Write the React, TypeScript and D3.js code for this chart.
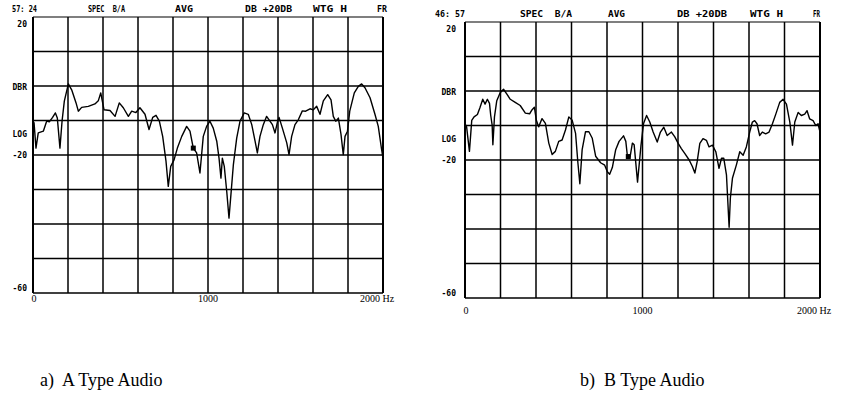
import React from 'react'
import * as d3 from 'd3'

// values (Hz, dB)
const freqTicks = [0, 1000, 2000]
const freqGrid = d3.range(0, 2001, 200)
const dbGrid = d3.range(20, -61, -10)
const dbLabels = [
  { text: '20', db: 18 },
  { text: 'DBR', db: -0.3 },
  { text: 'LOG', db: -14 },
  { text: '-20', db: -20 },
  { text: '-60', db: -58.5 },
]
const headerA = ['57: 24', 'SPEC  B/A', 'AVG', 'DB +20DB', 'WTG H', 'FR']
const headerB = ['46: 57', 'SPEC  B/A', 'AVG', 'DB +20DB', 'WTG H', 'FR']
const captions = ['a)  A Type Audio', 'b)  B Type Audio']

const audioA: [number, number][] = [
  [0, -10.2], [6, -10.7], [17, -18], [30, -13.6], [59, -13.1], [78, -10.2], [93, -10.4],
  [112, -9.1], [128, -7.8], [139, -9.3], [154, -18], [166, -10.2], [179, -4.4], [202, 0.6],
  [221, -1.1], [246, -4.9], [259, -7.3], [278, -6.2], [316, -5.9], [354, -5.2], [373, -4.3],
  [387, -2.0], [406, -6.9], [440, -7.1], [469, -8.8], [493, -4.9], [516, -6.3], [545, -8.8],
  [564, -7.3], [588, -7.7], [611, -6.3], [640, -8.2], [663, -12.6], [684, -9.1], [703, -8.5],
  [722, -10.2], [741, -14.6], [760, -21.8], [773, -29.1], [787, -23.3], [806, -21.4],
  [825, -18], [850, -14.6], [878, -11.7], [897, -13.1], [916, -18], [935, -19.4], [954, -25.2],
  [973, -14.6], [992, -11.7], [1011, -10.2], [1030, -12.2], [1050, -16], [1063, -20.9],
  [1074, -26.7], [1082, -20.9], [1093, -23.3], [1107, -30.5], [1120, -38.3], [1131, -31.5],
  [1145, -22.8], [1164, -15.1], [1183, -10.2], [1207, -7.8], [1230, -8.2], [1250, -11.2],
  [1269, -16], [1282, -19.4], [1297, -14.6], [1316, -11.2], [1335, -8.8], [1354, -10.2],
  [1368, -11.2], [1383, -13.6], [1398, -10.2], [1406, -9.1], [1425, -12.2], [1450, -16.5],
  [1463, -19.9], [1478, -14.6], [1497, -11.2], [1516, -9.8], [1539, -7.2], [1558, -7.3],
  [1583, -6.6], [1602, -6.9], [1621, -5.9], [1640, -8.2], [1659, -4.3], [1684, -2.5],
  [1703, -4.0], [1716, -8.8], [1730, -10.2], [1745, -9.3], [1760, -14.0], [1773, -19.9],
  [1783, -14.6], [1797, -13.1], [1810, -7.3], [1836, -2.0], [1859, -0.1], [1878, 0.6],
  [1897, -0.5], [1926, -3.4], [1954, -8.2], [1973, -11.7], [1992, -18.4], [2000, -20.9],
]

const audioB: [number, number][] = [
  [0, -9.5], [9, -10.4], [25, -17.5], [38, -8.5], [51, -7.5], [70, -6.8], [85, -4.7],
  [100, -2.4], [113, -3.8], [126, -2.4], [138, -3.6], [145, -7.1], [153, -9.9], [157, -15.6],
  [166, -7.5], [179, -2.8], [198, -0.5], [217, 0.5], [236, -0.9], [255, -2.4], [283, -3.3],
  [311, -4.2], [340, -6.4], [364, -6.6], [377, -5.5], [391, -4.7], [402, -8.5], [415, -10.4],
  [434, -8.0], [453, -9.4], [472, -15.1], [491, -18.4], [509, -17.5], [528, -14.6],
  [547, -14.2], [566, -11.3], [585, -7.5], [604, -8.5], [623, -12.3], [636, -20.8],
  [647, -26.9], [660, -17.0], [679, -11.8], [698, -11.8], [717, -13.7], [736, -18.9],
  [764, -20.8], [787, -21.5], [802, -23.4], [815, -24.1], [830, -22.2], [849, -17.0],
  [868, -14.6], [893, -13.0], [906, -14.6], [915, -18.9], [930, -19.1], [943, -15.1],
  [953, -15.6], [972, -26.4], [991, -16.0], [1006, -9.4], [1023, -7.1], [1041, -9.0],
  [1060, -11.9], [1083, -14.8], [1101, -11.9], [1120, -10.5], [1139, -12.9], [1163, -11.9],
  [1182, -13.3], [1201, -15.2], [1219, -16.7], [1238, -18.1], [1263, -20.0], [1281, -21.9],
  [1295, -23.8], [1308, -20.5], [1323, -15.2], [1341, -13.8], [1360, -14.3], [1375, -16.2],
  [1394, -15.7], [1413, -17.6], [1431, -22.4], [1445, -19.5], [1458, -19.5], [1473, -24.3],
  [1488, -39.5], [1495, -31.0], [1507, -25.2], [1529, -21.4], [1548, -17.6], [1567, -18.6],
  [1585, -16.2], [1604, -11.9], [1619, -9.0], [1632, -8.6], [1645, -9.5], [1660, -12.9],
  [1675, -11.9], [1694, -12.4], [1713, -11.9], [1732, -9.5], [1751, -6.7], [1773, -3.3],
  [1792, -2.4], [1811, -3.8], [1830, -9.0], [1845, -15.7], [1858, -9.0], [1877, -6.2],
  [1895, -7.1], [1914, -6.7], [1927, -5.7], [1942, -8.1], [1961, -8.6], [1976, -10.0],
  [1989, -9.5], [2000, -11.9],
]

// cursor marker on each trace
const markerA: [number, number] = [916, -18]
const markerB: [number, number] = [920, -19]

const mono = '"DejaVu Sans Mono", monospace'
const serif = '"Liberation Serif", "DejaVu Serif", serif'

type Layout = {
  left: number
  right: number
  top: number
  bottom: number
  headY: number
  headX: number[]
  headW: number[]
  labelRight: number
  tickY: number
  caption: { x: number; y: number }
}

const layoutA: Layout = {
  left: 33, right: 383, top: 17, bottom: 293,
  headY: 12, headX: [12, 88, 175, 245, 313, 377], headW: [25, 37, 18, 47, 34, 10],
  labelRight: 27, tickY: 302,
  caption: { x: 40, y: 386 },
}

const layoutB: Layout = {
  left: 465, right: 820, top: 22, bottom: 298,
  headY: 17, headX: [435, 520, 608, 677, 750, 813], headW: [30, 52, 17, 50, 33, 7],
  labelRight: 456, tickY: 314,
  caption: { x: 580, y: 386 },
}

function Panel({ data, header, marker, caption, lay }: {
  data: [number, number][]
  header: string[]
  marker: [number, number]
  caption: string
  lay: Layout
}) {
  const x = d3.scaleLinear().domain([0, 2000]).range([lay.left, lay.right])
  const y = d3.scaleLinear().domain([20, -60]).range([lay.top, lay.bottom])
  const line = d3.line<[number, number]>().x(d => x(d[0])).y(d => y(d[1]))

  return (
    <g>
      {header.map((t, i) => (
        <text key={t + i} x={lay.headX[i]} y={lay.headY} fontFamily={mono} fontWeight="bold"
          fontSize={8} textLength={lay.headW[i]} lengthAdjust="spacingAndGlyphs"
          style={{ whiteSpace: 'pre' }}>{t}</text>
      ))}

      {/* grid */}
      {dbGrid.map(v => (
        <line key={'h' + v} x1={lay.left} x2={lay.right} y1={y(v)} y2={y(v)}
          stroke="#000" strokeWidth={v === 20 ? 1.2 : 1.6} />
      ))}
      {freqGrid.map(v => (
        <line key={'v' + v} x1={x(v)} x2={x(v)} y1={lay.top} y2={lay.bottom}
          stroke="#000" strokeWidth={v === 0 || v === 2000 ? 2 : 1.5} />
      ))}

      {dbLabels.map(l => (
        <text key={l.text} x={lay.labelRight} y={y(l.db) + 3} textAnchor="end"
          fontFamily={mono} fontWeight="bold" fontSize={8}>{l.text}</text>
      ))}

      {freqTicks.map(v => (
        <text key={'t' + v} x={v === 2000 ? x(v) - 23 : x(v) + (v === 0 ? 1 : 0)} y={lay.tickY}
          textAnchor={v === 2000 ? 'start' : 'middle'} fontFamily={serif} fontSize={10}>
          {v === 2000 ? '2000 Hz' : String(v)}
        </text>
      ))}

      <path d={line(data) ?? ''} fill="none" stroke="#000" strokeWidth={1.4}
        strokeLinejoin="round" />
      <rect x={x(marker[0]) - 2.5} y={y(marker[1]) - 2.5} width={5} height={5} fill="#000" />

      <text x={lay.caption.x} y={lay.caption.y} fontFamily={serif} fontSize={18}
        style={{ whiteSpace: 'pre' }}>{caption}</text>
    </g>
  )
}

export default function App() {
  return (
    <svg width={845} height={404} style={{ position: 'absolute', left: 0, top: 0, background: '#fff' }}>
      <rect width={845} height={404} fill="#fff" />
      <Panel data={audioA} header={headerA} marker={markerA} caption={captions[0]} lay={layoutA} />
      <Panel data={audioB} header={headerB} marker={markerB} caption={captions[1]} lay={layoutB} />
    </svg>
  )
}
